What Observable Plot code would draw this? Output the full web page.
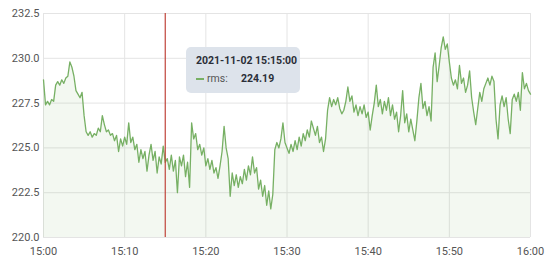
<!DOCTYPE html>
<html><head><meta charset="utf-8">
<script src="https://cdn.jsdelivr.net/npm/d3@7"></script>
<script src="https://cdn.jsdelivr.net/npm/@observablehq/plot@0.6"></script>
<style>
html,body{margin:0;padding:0;background:#fff;}
#wrap{position:relative;width:550px;height:265px;font-family:Roboto,"Noto Sans",sans-serif;}
#tip{position:absolute;left:186px;top:47px;width:114px;height:46px;background:#dde3eb;border-radius:5px;box-sizing:border-box;padding:7px 0 0 10px;font-size:10.5px;color:#2b2f38;white-space:nowrap;}
#tip .t{font-weight:bold;line-height:13px;}
#tip .r{margin-top:5px;line-height:13px;display:flex;align-items:center;}
#tip .dash{display:inline-block;width:8px;height:2px;background:#77b064;margin-right:3px;}
#tip .lab{color:#555;width:34px;}
#tip .val{font-weight:bold;}
</style></head>
<body><div id="wrap"><div id="tip"></div></div>
<script>
const startTime = "2021-11-02T15:00:00Z";
const stepSeconds = 15;
const rms = [
228.8,227.4,227.6,227.4,227.7,227.6,228.5,228.7,228.5,228.8,
228.6,228.9,229.0,229.8,229.5,229.0,228.2,228.0,227.8,228.1,
226.8,225.9,225.7,225.9,225.6,225.8,225.7,226.1,225.9,226.8,
226.3,225.9,226.0,225.7,225.8,225.4,225.7,224.8,225.5,225.1,
225.6,225.2,226.4,225.3,225.6,224.9,225.2,224.2,224.9,224.4,
224.8,223.7,224.6,225.2,224.3,224.8,223.6,224.5,224.1,225.1,
224.19,224.4,223.8,224.6,223.7,224.3,222.5,224.5,224.0,224.6,
223.4,224.2,222.8,226.4,225.5,225.8,224.9,225.2,224.6,225.0,
224.0,224.4,223.8,224.3,223.6,223.9,223.3,224.0,224.8,226.2,
225.0,224.4,222.3,223.6,222.9,223.5,222.8,223.4,223.0,223.8,
223.2,224.0,223.5,224.5,223.6,223.9,222.7,223.2,222.3,222.9,
221.8,222.6,221.6,222.4,224.9,225.3,225.0,225.5,226.4,225.3,
225.0,224.7,225.2,224.8,225.4,224.9,225.6,225.1,225.8,225.4,
226.0,225.6,226.5,226.1,225.7,226.2,225.3,225.6,224.8,225.5,
227.1,227.8,227.3,227.7,227.4,227.8,227.2,226.9,227.1,227.6,
228.4,227.6,227.9,227.0,227.4,226.8,227.3,226.9,227.4,226.7,
227.0,226.0,226.8,227.5,228.5,227.3,227.7,226.9,227.6,227.1,
227.8,226.8,227.4,226.6,227.0,225.9,226.8,228.2,226.4,226.9,
225.9,226.6,226.0,225.4,226.5,227.8,228.6,227.2,227.6,226.8,
227.3,226.5,229.5,230.3,228.7,229.6,230.6,231.2,230.5,230.8,
229.8,228.9,228.5,228.8,228.3,229.6,228.6,228.9,228.1,228.5,
229.3,227.8,227.0,226.3,227.2,228.1,227.6,228.3,228.6,228.9,
228.5,229.0,228.7,226.6,225.5,227.4,227.9,227.3,227.8,226.6,
225.8,227.7,228.0,227.6,228.1,227.1,229.2,228.3,228.6,228.2,
228.0
];
const yTicks = [220, 222.5, 225, 227.5, 230, 232.5];
const xTickLabels = ["15:00","15:10","15:20","15:30","15:40","15:50","16:00"];
const cursorTime = "2021-11-02T15:15:00Z";
const cursorLabel = "2021-11-02 15:15:00";
const seriesName = "rms";
const cursorValue = "224.19";

const t0 = new Date(startTime).getTime();
const data = rms.map((v, i) => ({t: new Date(t0 + i * stepSeconds * 1000), v}));
const xTicks = xTickLabels.map((_, i) => new Date(t0 + i * 600000));
const green = "#77b064";

const chart = Plot.plot({
  width: 550, height: 265,
  marginLeft: 43, marginRight: 20, marginTop: 13, marginBottom: 28,
  style: {fontFamily: "Roboto, 'Noto Sans', sans-serif", fontSize: "11px", color: "#555", background: "transparent"},
  x: {type: "utc", domain: [xTicks[0], xTicks[xTicks.length - 1]], label: null},
  y: {domain: [220, 232.5], label: null},
  marks: [
    Plot.gridY(yTicks, {stroke: "#e4e4e4", strokeOpacity: 1}),
    Plot.gridX(xTicks, {stroke: "#e4e4e4", strokeOpacity: 1}),
    Plot.areaY(data, {x: "t", y1: () => 220, y2: "v", fill: green, fillOpacity: 0.09}),
    Plot.lineY(data, {x: "t", y: "v", stroke: green, strokeWidth: 1.3}),
    Plot.ruleX([new Date(cursorTime)], {stroke: "#c0443a", strokeWidth: 1.2}),
    Plot.axisY({ticks: yTicks, tickFormat: d => d.toFixed(1), tickSize: 0, tickPadding: 4, label: null}),
    Plot.axisX({ticks: xTicks, tickFormat: (d, i) => xTickLabels[i], tickSize: 0, tickPadding: 10, label: null})
  ]
});
const wrap = document.getElementById("wrap");
wrap.insertBefore(chart, wrap.firstChild);
document.getElementById("tip").innerHTML =
  `<div class="t">${cursorLabel}</div><div class="r"><span class="dash"></span><span class="lab">${seriesName}:</span><span class="val">${cursorValue}</span></div>`;
</script>
</body></html>
